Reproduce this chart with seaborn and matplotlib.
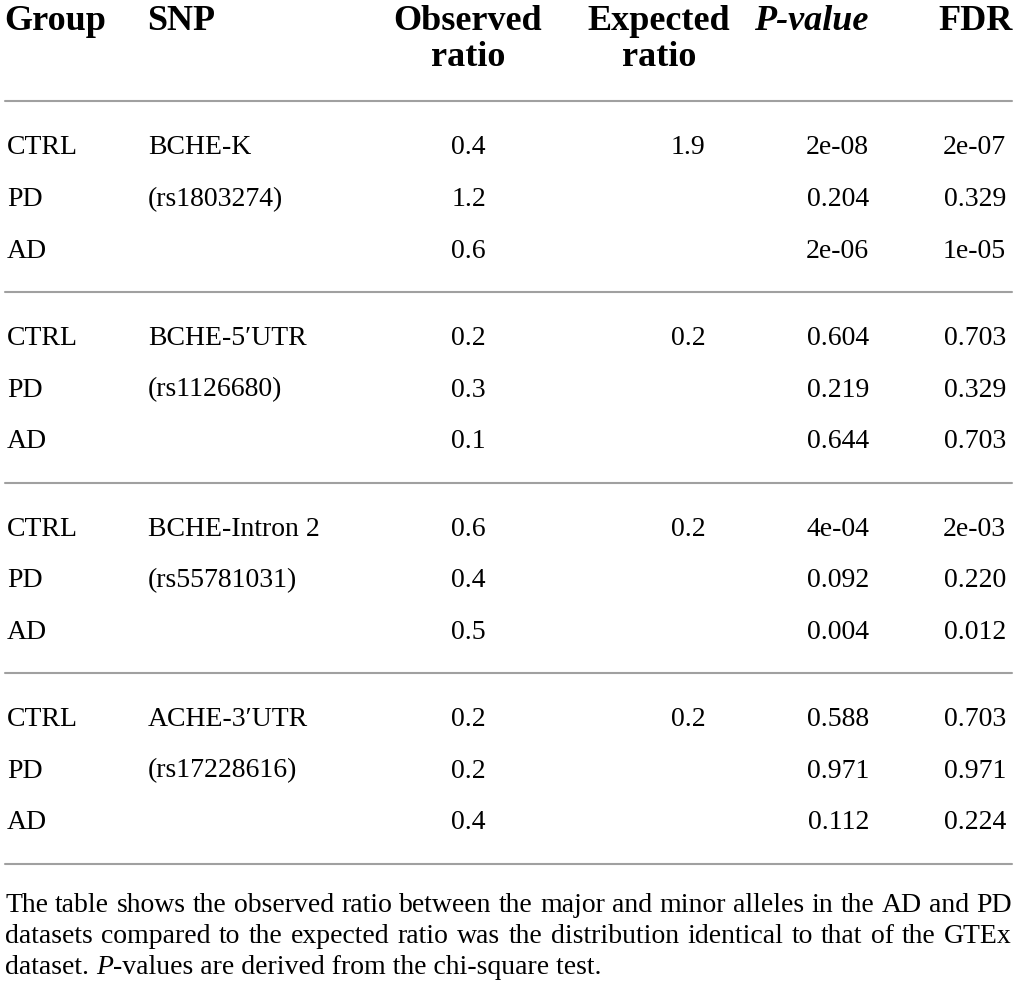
import numpy as np
import pandas as pd
import seaborn as sns
import matplotlib.pyplot as plt

# table content
groups = ["CTRL", "PD", "AD"]
snp_names = ["BCHE-K", "BCHE-5\u2032UTR", "BCHE-Intron 2", "ACHE-3\u2032UTR"]
snp_ids = ["(rs1803274)", "(rs1126680)", "(rs55781031)", "(rs17228616)"]
observed = [[0.4, 1.2, 0.6], [0.2, 0.3, 0.1], [0.6, 0.4, 0.5], [0.2, 0.2, 0.4]]
expected = [1.9, 0.2, 0.2, 0.2]
pvalues = [["2e-08", "0.204", "2e-06"], ["0.604", "0.219", "0.644"],
           ["4e-04", "0.092", "0.004"], ["0.588", "0.971", "0.112"]]
fdr = [["2e-07", "0.329", "1e-05"], ["0.703", "0.329", "0.703"],
       ["2e-03", "0.220", "0.012"], ["0.703", "0.971", "0.224"]]
footnote = ["The table shows the observed ratio between the major and minor alleles in the AD and PD",
            "datasets compared to the expected ratio was the distribution identical to that of the GTEx"]

rows = []
for i, snp in enumerate(snp_names):
    for j, g in enumerate(groups):
        rows.append({"block": i, "row": j, "Group": g,
                     "SNP": snp if j == 0 else (snp_ids[i] if j == 1 else ""),
                     "Observed": f"{observed[i][j]:.1f}",
                     "Expected": f"{expected[i]:.1f}" if j == 0 else "",
                     "P": pvalues[i][j], "FDR": fdr[i][j]})
df = pd.DataFrame(rows)

sns.set_theme(style="white")
plt.rcParams["font.family"] = ["Liberation Serif", "DejaVu Serif"]
plt.rcParams["text.color"] = "black"

W, H = 1017, 993
fig = plt.figure(figsize=(W / 100, H / 100), dpi=100)
ax = fig.add_axes([0, 0, 1, 1])
ax.set_xlim(0, W)
ax.set_ylim(H, 0)
ax.axis("off")

fs = 20
line_col = "#a0a0a0"
left, right = 5, 1012

# header
hk = dict(fontsize=26, fontweight="bold", va="center")
ax.text(4, 21, "Group", ha="left", **hk)
ax.text(147, 21, "SNP", ha="left", **hk)
ax.text(468, 21, "Observed", ha="center", **hk)
ax.text(468, 57, "ratio", ha="center", **hk)
ax.text(659, 21, "Expected", ha="center", **hk)
ax.text(659, 57, "ratio", ha="center", **hk)
ax.text(868, 21, "P-value", ha="right", style="italic", **hk)
ax.text(1013, 21, "FDR", ha="right", **hk)
ax.plot([left, right], [101, 101], color=line_col, lw=1.5)

# body
y0, pitch, block = 148, 51.6, 190.5
for _, r in df.iterrows():
    y = y0 + r["block"] * block + r["row"] * pitch
    ax.text(7, y, r["Group"], ha="left", va="center", fontsize=fs)
    ax.text(148, y, r["SNP"], ha="left", va="center", fontsize=fs)
    ax.text(486, y, r["Observed"], ha="right", va="center", fontsize=fs)
    ax.text(688, y, r["Expected"], ha="center", va="center", fontsize=fs)
    ax.text(869, y, r["P"], ha="right", va="center", fontsize=fs)
    ax.text(1006, y, r["FDR"], ha="right", va="center", fontsize=fs)
for k in range(len(snp_names)):
    yl = 292 + k * block
    ax.plot([left, right], [yl, yl], color=line_col, lw=1.5)

# footnote, first two lines justified word by word
fig.canvas.draw()
rend = fig.canvas.get_renderer()
ffs = 20
for n, line in enumerate(footnote):
    y = 905 + n * 31.5
    words = line.split()
    widths = []
    for w in words:
        t = ax.text(0, y, w, fontsize=ffs, va="center")
        widths.append(t.get_window_extent(rend).width)
        t.remove()
    gap = (right - left - sum(widths)) / (len(words) - 1)
    x = left
    for w, wd in zip(words, widths):
        ax.text(x, y, w, fontsize=ffs, va="center", ha="left")
        x += wd + gap

y = 905 + 2 * 31.5
x = left
for part, st in [("dataset. ", "normal"), ("P", "italic"),
                 ("-values are derived from the chi-square test.", "normal")]:
    t = ax.text(x, y, part, fontsize=ffs, va="center", ha="left", style=st)
    x += t.get_window_extent(rend).width

fig.savefig("out.png", dpi=100, facecolor="white")
